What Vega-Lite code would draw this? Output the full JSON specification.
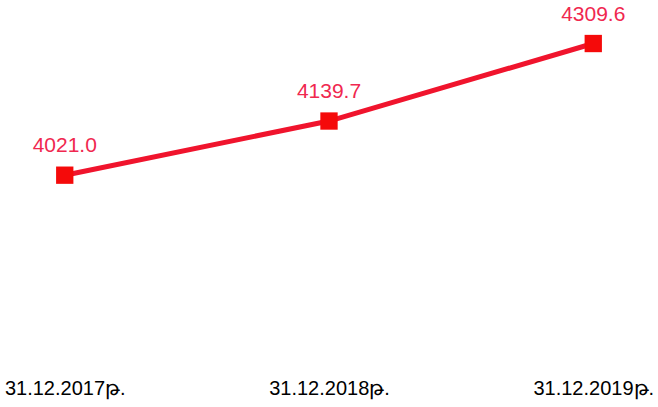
{
  "$schema": "https://vega.github.io/schema/vega-lite/v6.json",
  "width": 658,
  "height": 407,
  "padding": {"top": 0, "left": 0, "right": 0, "bottom": 9},
  "autosize": {"type": "fit", "contains": "padding"},
  "background": "white",
  "config": {"view": {"stroke": null}, "font": "Liberation Sans"},
  "data": {"values": [
    {"date": "31.12.2017թ.", "value": 4021.0, "label": "4021.0"},
    {"date": "31.12.2018թ.", "value": 4139.7, "label": "4139.7"},
    {"date": "31.12.2019թ.", "value": 4309.6, "label": "4309.6"}
  ]},
  "encoding": {
    "x": {"field": "date", "type": "ordinal", "sort": null,
      "scale": {"type": "point", "padding": 0.245},
      "axis": {"title": null, "domain": false, "ticks": false, "labelAngle": 0,
        "labelFontSize": 20, "labelColor": "#000000", "labelPadding": 3, "grid": false,
        "labelOverlap": false, "labelBound": false, "labelFlush": false}},
    "y": {"field": "value", "type": "quantitative",
      "scale": {"domain": [3583, 4405], "nice": false, "zero": false},
      "axis": null}
  },
  "layer": [
    {"mark": {"type": "line", "color": "#f0142d", "strokeWidth": 5}},
    {"mark": {"type": "point", "shape": "square", "filled": true, "size": 300, "color": "#f50a0a", "opacity": 1}},
    {"mark": {"type": "text", "color": "#f0284f", "fontSize": 21, "dy": -29, "baseline": "middle"},
     "encoding": {"text": {"field": "label"}}}
  ]
}
